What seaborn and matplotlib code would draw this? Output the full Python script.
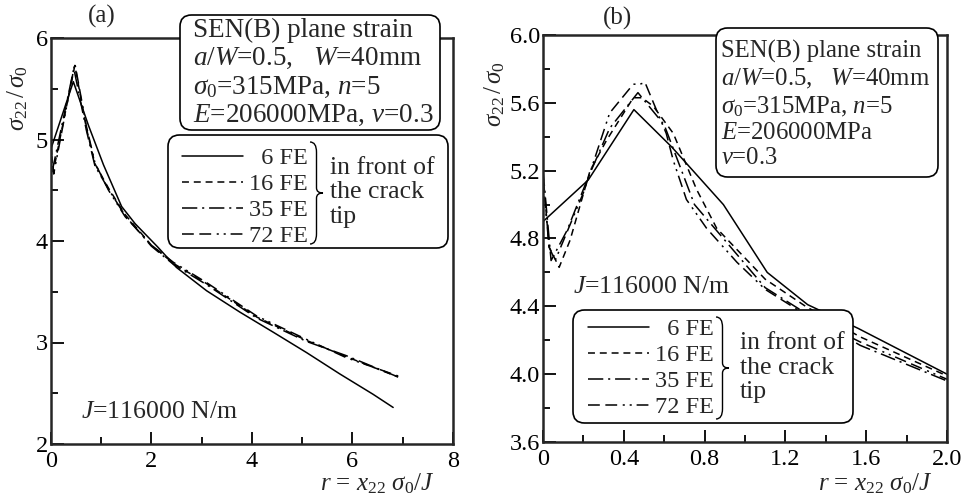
import numpy as np
import pandas as pd
import seaborn as sns
import matplotlib.pyplot as plt
import matplotlib.ticker as mtick
from matplotlib.path import Path
from matplotlib.patches import PathPatch, FancyBboxPatch

# mesh labels and line styles
mesh = ["6 FE", "16 FE", "35 FE", "72 FE"]
mesh_ls = ["-", (0, (5, 3.5)), (0, (11, 3.5, 1.5, 3.5)), (0, (8.5, 4, 8.5, 4, 1.5, 3.5, 1.5, 3.5))]

# (a) r = 0..8
a_x = {
    "6 FE": [0, 0.45, 0.75, 1.05, 1.41, 1.68, 2.13, 2.5, 3.1, 3.76, 4.43, 5.09, 5.75, 6.41, 6.81],
    "16 FE": [0, 0.05, 0.48, 0.71, 0.88, 1.15, 1.48, 2.0, 2.44, 3.1, 4.1, 5.09, 5.88, 6.91],
    "35 FE": [0, 0.04, 0.46, 0.71, 0.88, 1.15, 1.48, 2.0, 2.44, 3.1, 4.1, 5.09, 5.88, 6.91],
    "72 FE": [0, 0.06, 0.48, 0.71, 0.88, 1.15, 1.48, 2.0, 2.44, 3.1, 4.1, 5.09, 5.88, 6.91],
}
a_y = {
    "6 FE": [4.90, 5.57, 5.14, 4.75, 4.34, 4.17, 3.94, 3.74, 3.51, 3.30, 3.10, 2.90, 2.69, 2.49, 2.36],
    "16 FE": [4.95, 4.68, 5.73, 5.11, 4.76, 4.52, 4.26, 3.96, 3.78, 3.58, 3.25, 3.02, 2.86, 2.66],
    "35 FE": [5.0, 4.71, 5.70, 5.09, 4.74, 4.51, 4.25, 3.95, 3.77, 3.57, 3.24, 3.01, 2.87, 2.66],
    "72 FE": [4.9, 4.66, 5.75, 5.13, 4.77, 4.50, 4.24, 3.96, 3.79, 3.59, 3.26, 3.03, 2.85, 2.67],
}

# (b) r = 0..2
b_x = {
    "6 FE": [0, 0.224, 0.45, 0.637, 0.893, 1.11, 1.31, 1.56, 2.0],
    "16 FE": [0, 0.03, 0.08, 0.134, 0.233, 0.315, 0.447, 0.49, 0.546, 0.645, 0.76, 0.86,
              1.1, 1.3, 1.57, 2.0],
    "35 FE": [0, 0.04, 0.12, 0.22, 0.33, 0.47, 0.6, 0.75, 0.9, 1.1, 1.3, 1.57, 2.0],
    "72 FE": [0, 0.03, 0.06, 0.2, 0.33, 0.447, 0.48, 0.505, 0.61, 0.645, 0.71, 0.81, 0.96,
              1.1, 1.3, 1.57, 2.0],
}
b_y = {
    "6 FE": [4.9, 5.145, 5.56, 5.34, 5.0, 4.60, 4.41, 4.27, 4.0],
    "16 FE": [5.18, 4.75, 4.63, 4.79, 5.20, 5.38, 5.63, 5.63, 5.58, 5.42, 5.09, 4.86,
              4.56, 4.40, 4.22, 3.99],
    "35 FE": [5.2, 4.67, 4.85, 5.15, 5.45, 5.66, 5.47, 5.00, 4.79, 4.51, 4.36, 4.17, 3.96],
    "72 FE": [5.15, 4.75, 4.67, 5.07, 5.54, 5.71, 5.71, 5.72, 5.42, 5.26, 5.03, 4.86, 4.66,
              4.50, 4.35, 4.19, 3.97],
}

info_a = ("SEN(B) plane strain\n$a/W$=0.5,   $W$=40mm\n"
          "$\\sigma_0$=315MPa, $n$=5\n$E$=206000MPa, $\\nu$=0.3")
info_b = ("SEN(B) plane strain\n$a/W$=0.5,   $W$=40mm\n"
          "$\\sigma_0$=315MPa, $n$=5\n$E$=206000MPa\n$\\nu$=0.3")
j_text = "$J$=116000 N/m"
tip_text = "in front of\nthe crack\ntip"

sns.set_style("ticks")
plt.rcParams["font.family"] = ["Liberation Serif", "DejaVu Serif"]
plt.rcParams["mathtext.fontset"] = "custom"
plt.rcParams["mathtext.rm"] = "Liberation Serif"
plt.rcParams["mathtext.it"] = "Liberation Serif:italic"
plt.rcParams["mathtext.bf"] = "Liberation Serif:bold"
plt.rcParams["lines.scale_dashes"] = False

W, H = 961, 497
fig = plt.figure(figsize=(W / 100, H / 100), dpi=100)


def fx(px):
    return px / W


def fy(py):
    return 1 - py / H


ax_a = fig.add_axes([fx(50.7), fy(444), fx(453) - fx(50.7), fy(38) - fy(444)])
ax_b = fig.add_axes([fx(543), fy(442), fx(947) - fx(543), fy(35) - fy(442)])


def draw_curves(ax, xs, ys):
    for name, ls in zip(mesh, mesh_ls):
        df = pd.DataFrame({"r": xs[name], "s": ys[name]})
        sns.lineplot(data=df, x="r", y="s", ax=ax, color="black", linestyle=ls,
                     linewidth=1.1, estimator=None, sort=False, label=name, legend=False)
    return ax.lines[-4:]


h_a = draw_curves(ax_a, a_x, a_y)
h_b = draw_curves(ax_b, b_x, b_y)

ax_a.set_xlim(0, 8)
ax_a.set_ylim(2, 6)
ax_a.xaxis.set_major_locator(mtick.MultipleLocator(2))
ax_a.xaxis.set_minor_locator(mtick.MultipleLocator(1))
ax_a.yaxis.set_major_locator(mtick.MultipleLocator(1))
ax_a.yaxis.set_minor_locator(mtick.MultipleLocator(0.5))

ax_b.set_xlim(0, 2.0)
ax_b.set_ylim(3.6, 6.0)
ax_b.xaxis.set_major_locator(mtick.MultipleLocator(0.4))
ax_b.xaxis.set_minor_locator(mtick.MultipleLocator(0.2))
ax_b.yaxis.set_major_locator(mtick.MultipleLocator(0.4))
ax_b.yaxis.set_minor_locator(mtick.MultipleLocator(0.2))
ax_b.xaxis.set_major_formatter(mtick.FuncFormatter(lambda v, p: "0" if abs(v) < 1e-9 else f"{v:.1f}"))
ax_b.yaxis.set_major_formatter(mtick.FormatStrFormatter("%.1f"))

for ax in (ax_a, ax_b):
    ax.set_xlabel("")
    ax.set_ylabel("")
    for sp in ax.spines.values():
        sp.set_visible(True)
        sp.set_linewidth(1.8)
    ax.tick_params(which="both", direction="in", top=False, right=False,
                   width=1.3, labelsize=17.5, colors="black")
    ax.tick_params(which="major", length=9)
    ax.tick_params(which="minor", length=5)
    ax.tick_params(axis="x", pad=5)
    ax.tick_params(axis="y", pad=2)

# axis labels and panel tags
ylab = "$\\sigma_{22}\\,/\\,\\sigma_0$"
xlab = "$r$ = $x_{22}$ $\\sigma_0/J$"
fig.text(fx(18), fy(98), ylab, rotation=90, ha="center", va="center", fontsize=18)
fig.text(fx(495), fy(94), ylab, rotation=90, ha="center", va="center", fontsize=18)
fig.text(fx(377), fy(484), xlab, ha="center", va="center", fontsize=18)
fig.text(fx(875), fy(484), xlab, ha="center", va="center", fontsize=18)
fig.text(fx(102), fy(16), "(a)", ha="center", va="center", fontsize=18)
fig.text(fx(617), fy(18), "(b)", ha="center", va="center", fontsize=18)
fig.text(fx(81), fy(412), j_text, ha="left", va="center", fontsize=18.5)
fig.text(fx(573), fy(287), j_text, ha="left", va="center", fontsize=18.5)


def frame(left, right, top, bottom, z=5):
    # rounded white box, given in figure pixels
    p = FancyBboxPatch((fx(left), fy(bottom)), fx(right) - fx(left), fy(top) - fy(bottom),
                       boxstyle="round,pad=0,rounding_size=0.012", mutation_aspect=W / H,
                       fc="white", ec="black", lw=1.2, transform=fig.transFigure, zorder=z)
    fig.add_artist(p)


frame(180, 440, 15, 130)
fig.text(fx(193), fy(73), info_a, ha="left", va="center", fontsize=19.5,
         linespacing=1.16, zorder=6)
frame(716, 938, 28, 177)
fig.text(fx(721), fy(104.5), info_b, ha="left", va="center", fontsize=17.8,
         linespacing=1.2, zorder=6)


def brace(x0, x1, y_top, y_bot):
    # right curly brace in figure pixels
    xm = (x0 + x1) / 2
    ym = (y_top + y_bot) / 2
    h = y_bot - y_top
    pts = [(x0, y_top), (xm, y_top), (xm, y_top + 0.1 * h),
           (xm, ym - 0.05 * h), (xm, ym), (x1, ym),
           (xm, ym), (xm, ym + 0.05 * h),
           (xm, y_bot - 0.1 * h), (xm, y_bot), (x0, y_bot)]
    codes = [Path.MOVETO, Path.CURVE3, Path.CURVE3,
             Path.LINETO, Path.CURVE3, Path.CURVE3,
             Path.CURVE3, Path.CURVE3,
             Path.LINETO, Path.CURVE3, Path.CURVE3]
    verts = [(fx(x), fy(y)) for x, y in pts]
    fig.add_artist(PathPatch(Path(verts, codes), fc="none", ec="black", lw=1.0,
                             transform=fig.transFigure, zorder=7))


def legend_block(handles, left, right, top, bottom, leg_top, label_right, brace_x, text_x):
    frame(left, right, top, bottom)
    labels = ["  6 FE", "16 FE", "35 FE", "72 FE"]
    leg = fig.legend(handles, labels, loc="upper right", bbox_to_anchor=(fx(label_right), fy(leg_top)),
                     bbox_transform=fig.transFigure, frameon=False, fontsize=17.5,
                     handlelength=2.5, handletextpad=0.25, labelspacing=0.17,
                     borderpad=0, borderaxespad=0)
    leg.set_zorder(7)
    brace(brace_x, brace_x + 13, top + 7, bottom - 4)
    fig.text(fx(text_x), fy((top + bottom) / 2 + 1), tip_text, ha="left", va="center",
             fontsize=18.5, linespacing=1.12, zorder=7)


legend_block(h_a, 168, 448, 135, 248, 147, 308, 310, 330)
legend_block(h_b, 573, 853, 310, 423, 318, 714, 716, 740)

fig.savefig("out.png", dpi=100)
